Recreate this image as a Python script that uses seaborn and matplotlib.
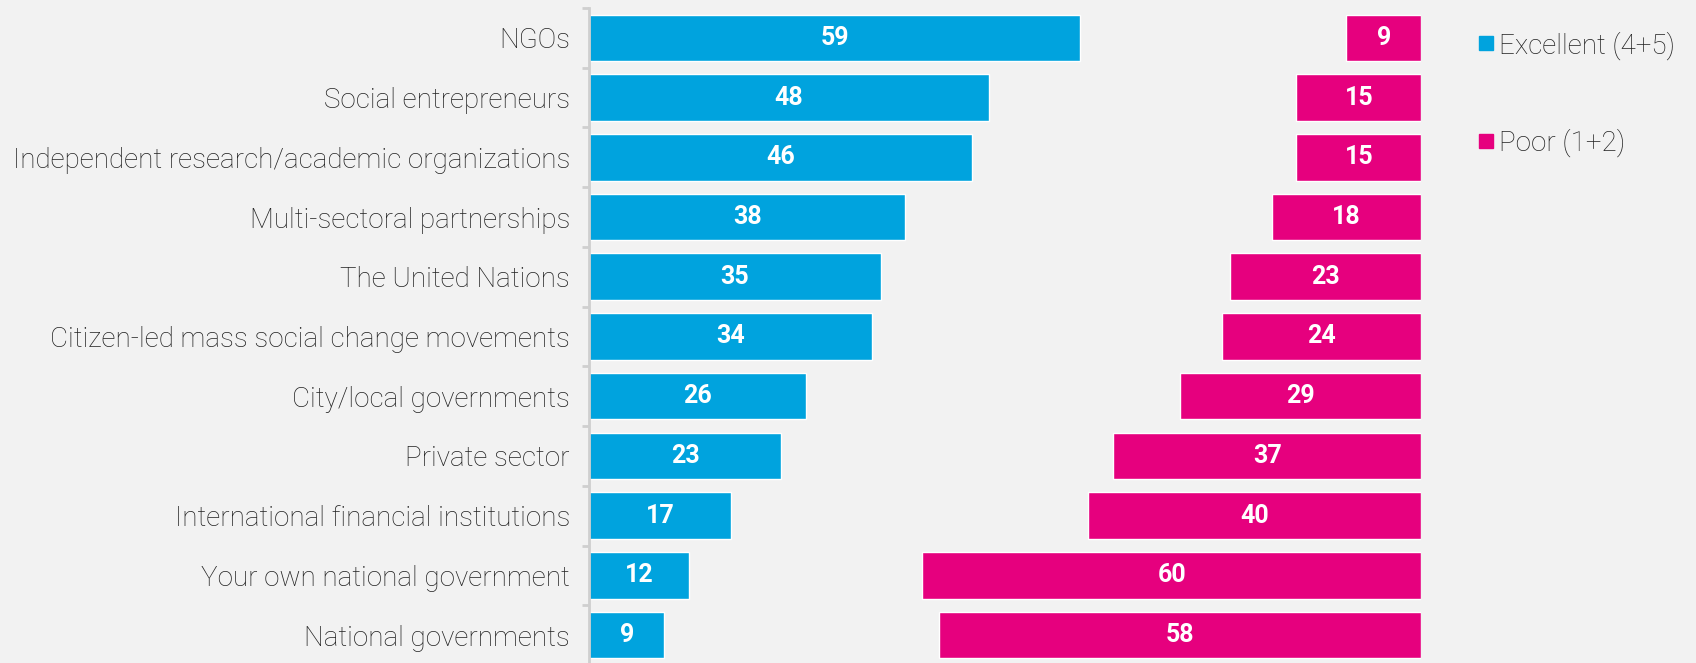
import matplotlib
matplotlib.use("Agg")
import matplotlib.pyplot as plt
import seaborn as sns
import pandas as pd
from matplotlib.ticker import FixedLocator
from matplotlib.lines import Line2D

categories = [
    "NGOs",
    "Social entrepreneurs",
    "Independent research/academic organizations",
    "Multi-sectoral partnerships",
    "The United Nations",
    "Citizen-led mass social change movements",
    "City/local governments",
    "Private sector",
    "International financial institutions",
    "Your own national government",
    "National governments",
]
excellent = [59, 48, 46, 38, 35, 34, 26, 23, 17, 12, 9]
poor = [9, 15, 15, 18, 23, 24, 29, 37, 40, 60, 58]

blue = "#00A3DE"
pink = "#E6007E"
bg = "#F2F2F2"

sns.set_style("white")
plt.rcParams["font.family"] = ["Roboto", "DejaVu Sans"]

df = pd.DataFrame({"group": categories, "excellent": excellent, "poor": poor})

fig = plt.figure(figsize=(16.96, 6.63), dpi=100, facecolor=bg)
ax = fig.add_axes([0.3475, -0.003, 0.4905, 0.991])
ax.set_facecolor(bg)

sns.barplot(data=df, x="excellent", y="group", color=blue, width=0.78,
            saturation=1, ax=ax)
sns.barplot(data=df, x="poor", y="group", color=pink, width=0.78,
            saturation=1, ax=ax)

# poor bars sit at the right end of the 100% scale
for p in ax.containers[1]:
    p.set_x(100 - p.get_width())

for c in ax.containers:
    ax.bar_label(c, label_type="center", color="white", fontsize=18,
                 fontweight="bold")

ax.set_xlim(0, 100)
ax.set_ylim(len(categories) - 0.5, -0.5)
ax.set_xlabel("")
ax.set_ylabel("")
ax.set_xticks([])

for s in ["top", "right", "bottom"]:
    ax.spines[s].set_visible(False)
ax.spines["left"].set_color("#CFCFCF")
ax.spines["left"].set_linewidth(2)

ax.tick_params(axis="y", which="major", left=False, length=0, pad=14,
               labelsize=20, labelcolor="#222222")
ax.yaxis.set_minor_locator(FixedLocator([i - 0.5 for i in range(len(categories) + 1)]))
ax.tick_params(axis="y", which="minor", left=True, length=5, width=2,
               color="#CFCFCF", direction="out")
for t in ax.get_yticklabels():
    t.set_fontweight("light")

handles = [
    Line2D([], [], marker="s", linestyle="", markersize=10, color=blue,
           label="Excellent (4+5)"),
    Line2D([], [], marker="s", linestyle="", markersize=10, color=pink,
           label="Poor (1+2)"),
]
leg = fig.legend(handles=handles, loc="upper left", bbox_to_anchor=(0.864, 0.970),
                 frameon=False, fontsize=20, labelspacing=2.5, handletextpad=0.1,
                 handlelength=0.7, borderaxespad=0)
for t in leg.get_texts():
    t.set_fontweight("light")
    t.set_color("#222222")

fig.savefig("out.png", dpi=100, facecolor=bg)
